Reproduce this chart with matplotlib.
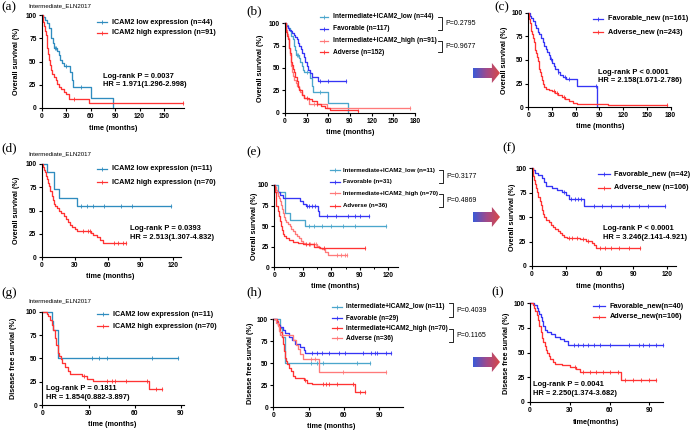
import numpy as np
import matplotlib
matplotlib.use("Agg")
import matplotlib.pyplot as plt
from matplotlib.lines import Line2D
from matplotlib.patches import Polygon
from matplotlib.colors import LinearSegmentedColormap

plt.rcParams["font.family"] = ["Liberation Sans", "DejaVu Sans"]
plt.rcParams["font.weight"] = "bold"

W, H = 695, 432

# ---- survival data (time in months, survival in %) ----
# (a)/(b) Intermediate ELN2017, OS
a_low_t = [0, 2, 4, 7, 9, 11, 12, 14, 15, 19, 21, 23, 25, 27, 35, 37, 39, 60, 87]
a_low_s = [100, 98, 95, 91, 86, 82, 75, 70, 64, 61, 57, 52, 48, 45, 39, 30, 23, 11, 0]
a_low_c = [16, 18, 30, 48]
a_high_t = [0, 1, 2, 3, 4, 5, 6, 7, 8, 9, 10, 11, 13, 15, 17, 19, 21, 24, 27, 30, 33, 58, 173]
a_high_s = [100, 97, 93, 88, 83, 78, 72, 65, 58, 52, 46, 41, 37, 33, 30, 26, 23, 20, 17, 15, 10, 5, 5]
a_high_c = [40, 173]
b_fav_t = [0, 2, 4, 6, 8, 10, 12, 14, 16, 18, 20, 22, 24, 26, 28, 30, 32, 34, 38, 46, 85]
b_fav_s = [100, 97, 95, 93, 91, 89, 87, 85, 82, 78, 75, 71, 67, 62, 57, 52, 48, 44, 40, 36, 36]
b_fav_c = [48, 60, 85]
b_adv_t = [0, 1, 2, 3, 4, 5, 6, 7, 8, 9, 10, 11, 12, 14, 16, 18, 20, 23, 27, 33, 38, 44, 50, 56, 62, 101]
b_adv_s = [100, 95, 90, 86, 82, 77, 72, 67, 62, 57, 53, 49, 45, 40, 35, 29, 25, 20, 17, 15, 13, 10, 7, 5, 3, 2]
b_adv_c = [30, 45, 101]
c_fav_t = [0, 2, 4, 6, 8, 10, 12, 14, 16, 18, 20, 22, 24, 26, 28, 30, 32, 34, 37, 40, 44, 48, 61, 87]
c_fav_s = [100, 97, 94, 91, 87, 84, 80, 77, 73, 69, 65, 62, 58, 55, 51, 47, 44, 41, 37, 34, 32, 30, 22, 0]
c_fav_c = [29, 38, 46, 52, 85]
c_adv_t = [0, 1, 2, 3, 4, 5, 6, 7, 8, 9, 10, 11, 12, 13, 14, 15, 16, 17, 18, 20, 22, 26, 30, 34,
           38, 42, 47, 52, 57, 62, 101, 175]
c_adv_s = [100, 93, 89, 85, 81, 77, 73, 69, 65, 61, 57, 53, 49, 45, 41, 37, 33, 29, 25, 21, 19, 18, 17, 15,
           13, 11, 9, 7, 5, 4, 2, 2]
c_adv_c = [33, 36, 45, 175]

# (d)-(f) OS, second cohort
d_low_t = [0, 5, 11, 16, 32, 118]
d_low_s = [100, 91, 73, 64, 55, 55]
d_low_c = [36, 41, 47, 57, 72, 82, 118]
d_high_t = [0, 1, 2, 3, 4, 5, 6, 7, 8, 9, 10, 11, 12, 14, 16, 18, 20, 22, 24, 26, 28, 30, 32, 45, 47, 50,
            53, 56, 77]
d_high_s = [100, 97, 94, 91, 87, 84, 80, 76, 71, 66, 61, 57, 55, 53, 50, 47, 44, 41, 38, 35, 32, 30, 28, 26,
            24, 22, 19, 15, 15]
d_high_c = [38, 42, 44, 66, 70, 74, 77]
e_low_t = [0, 4, 11, 16, 32, 118]
e_low_s = [100, 91, 66, 58, 50, 50]
e_low_c = [36, 42, 50, 60, 72, 85, 118]
e_fav_t = [0, 1, 6, 9, 27, 30, 33, 46, 47, 100]
e_fav_s = [100, 92, 88, 84, 80, 77, 74, 68, 62, 62]
e_fav_c = [34, 37, 40, 43, 55, 65, 78, 85, 90, 100]
e_adv_t = [0, 1, 2, 4, 5, 6, 7, 8, 9, 10, 12, 15, 20, 25, 30, 42, 48, 95]
e_adv_s = [100, 92, 75, 69, 62, 56, 50, 45, 41, 38, 35, 33, 31, 29, 28, 25, 23, 23]
e_adv_c = [33, 36, 52, 95]
f_fav_t = [0, 1, 3, 6, 9, 11, 13, 18, 22, 27, 30, 33, 46, 118]
f_fav_s = [100, 98, 95, 93, 90, 86, 82, 80, 78, 76, 73, 69, 61, 61]
f_fav_c = [29, 35, 38, 41, 44, 55, 62, 70, 80, 86, 95, 103, 118]
f_adv_t = [0, 1, 2, 3, 4, 5, 6, 7, 8, 9, 10, 11, 13, 15, 17, 19, 21, 23, 25, 27, 29, 31, 43, 48, 53, 55,
           57, 96]
f_adv_s = [100, 92, 88, 84, 80, 76, 71, 67, 62, 57, 53, 50, 47, 45, 42, 40, 38, 36, 34, 32, 30, 29, 28, 26,
           24, 21, 18, 18]
f_adv_c = [33, 36, 40, 45, 50, 60, 65, 70, 77, 86, 96]

# (g)-(i) DFS
g_low_t = [0, 6, 7, 10, 88]
g_low_s = [100, 90, 80, 50, 50]
g_low_c = [32, 37, 42, 71, 88]
g_high_t = [0, 3, 4, 5, 6, 7, 8, 9, 10, 11, 12, 13, 15, 17, 18, 26, 29, 33, 69, 78]
g_high_s = [100, 98, 95, 91, 86, 80, 72, 64, 56, 53, 49, 45, 41, 36, 33, 31, 28, 26, 17, 17]
g_high_c = [27, 42, 45, 47, 54, 68, 74, 78]
h_low_t = [0, 6, 7, 10, 82]
h_low_s = [100, 90, 80, 50, 50]
h_low_c = [32, 37, 42, 71, 82]
h_fav_t = [0, 3, 4, 6, 8, 10, 13, 16, 18, 23, 26, 27, 100]
h_fav_s = [100, 97, 94, 91, 88, 84, 80, 76, 72, 69, 65, 62, 62]
h_fav_c = [33, 37, 41, 47, 56, 61, 76, 83, 86, 88, 96, 100]
h_adv_t = [0, 2, 4, 5, 6, 17, 19, 21, 23, 25, 39, 96]
h_adv_s = [100, 96, 92, 87, 82, 77, 71, 66, 61, 55, 40, 40]
h_adv_c = [32, 35, 59, 96]
i_fav_t = [0, 3, 5, 6, 7, 8, 9, 10, 11, 13, 16, 19, 23, 26, 29, 100]
i_fav_s = [100, 98, 95, 92, 89, 86, 82, 77, 73, 71, 69, 66, 64, 62, 58, 58]
i_fav_c = [33, 36, 40, 44, 48, 53, 60, 75, 82, 85, 90, 95, 100]
i_adv_t = [0, 2, 3, 4, 5, 6, 7, 8, 9, 10, 11, 12, 13, 14, 15, 17, 19, 24, 30, 35, 38, 69, 95]
i_adv_s = [100, 98, 95, 92, 88, 83, 77, 71, 65, 61, 57, 53, 49, 46, 43, 40, 38, 37, 35, 33, 30, 22, 22]
i_adv_c = [34, 40, 45, 50, 55, 60, 66, 72, 78, 84, 90, 95]

TEAL = "#2f8cbf"
LTEAL = "#4ba6cc"
RED = "#ff3333"
PINK = "#ff7a7a"
BLUE = "#3535f5"

fig = plt.figure(figsize=(W / 100, H / 100), dpi=100)


def ftext(x, y, s, **kw):
    fig.text(x / W, 1 - y / H, s, **kw)


def km_axes(x0, px_per, xmax, ytop, ybot, xticks, minor=False):
    x1 = x0 + px_per * xmax
    ax = fig.add_axes([x0 / W, 1 - ybot / H, (x1 - x0) / W, (ybot - ytop) / H])
    ax.set_xlim(0, xmax)
    ax.set_ylim(0, 100)
    ax.set_xticks(xticks)
    ax.set_yticks([0, 25, 50, 75, 100])
    if minor:
        ax.set_xticks([(a + b) / 2 for a, b in zip(xticks[:-1], xticks[1:])], minor=True)
        ax.tick_params(axis="x", which="minor", length=1.5, width=0.7)
    for sp in ["top", "right"]:
        ax.spines[sp].set_visible(False)
    for sp in ["left", "bottom"]:
        ax.spines[sp].set_linewidth(0.8)
    ax.tick_params(direction="out", length=2.5, width=0.8, labelsize=4.8, pad=1.2)
    ax.patch.set_alpha(0)
    return ax


def km(ax, t, s, c, color):
    ax.step(t, s, where="post", color=color, lw=0.95, clip_on=False)
    idx = np.searchsorted(t, c, side="right") - 1
    ax.plot(c, np.array(s)[idx], ls="none", marker="|", ms=2.8, mew=0.6, color=color, clip_on=False)


def legend(x0, x1, xt, ys, labels, colors, size=5.2):
    for y, lab, col in zip(ys, labels, colors):
        fig.add_artist(Line2D([x0 / W, x1 / W], [1 - y / H] * 2, color=col, lw=0.9))
        fig.add_artist(Line2D([(x0 + x1) / 2 / W], [1 - y / H], marker="|", ms=2.8, mew=0.6, color=col))
        ftext(xt, y, lab, va="center", ha="left", fontsize=size)


def bracket(x, y1, y2, label):
    fig.add_artist(Line2D([(x - 4) / W, x / W, x / W, (x - 4) / W],
                          [1 - y1 / H, 1 - y1 / H, 1 - y2 / H, 1 - y2 / H], color="black", lw=0.6))
    ftext(x + 3, (y1 + y2) / 2, label, va="center", ha="left", fontsize=5, fontweight="normal")


def arrow(yc):
    x0, x1 = 473, 500
    aax = fig.add_axes([x0 / W, 1 - (yc + 10) / H, (x1 - x0) / W, 20 / H])
    aax.axis("off")
    cmap = LinearSegmentedColormap.from_list("bluered", ["#3a5ad8", "#a04a8a", "#d84848"])
    im = aax.imshow(np.linspace(0, 1, 200).reshape(1, -1), extent=[0, 1, 0, 1], cmap=cmap, aspect="auto")
    poly = Polygon([[0, 0.25], [0.7, 0.25], [0.7, 0], [1, 0.5], [0.7, 1], [0.7, 0.75], [0, 0.75]],
                   closed=True, transform=aax.transAxes, fc="none", ec="none")
    aax.add_patch(poly)
    im.set_clip_path(poly)


def ylab(x, y, s):
    ftext(x, y, s, rotation=90, ha="center", va="center", fontsize=5.2)


def xlab(x, y, s):
    ftext(x, y, s, ha="center", va="center", fontsize=5.2)


def plabel(x, y, s):
    ftext(x, y, s, ha="left", va="center", fontsize=9.5, fontweight="normal",
          family=["Liberation Serif", "DejaVu Serif"])


def title(x, y, s):
    ftext(x, y, s, ha="left", va="center", fontsize=4.4, fontweight="normal")


def stats(x, y, p, hr):
    ftext(x, y, p, ha="left", va="center", fontsize=5.4)
    ftext(x, y + 8.5, hr, ha="left", va="center", fontsize=5.4)


# ---- (a) ----
ax = km_axes(41.7, 0.8153, 175, 15, 108, [0, 30, 60, 90, 120, 150])
km(ax, a_low_t, a_low_s, a_low_c, TEAL)
km(ax, a_high_t, a_high_s, a_high_c, RED)
legend(97, 107, 112, [22, 33], ["ICAM2 low expression (n=44)", "ICAM2 high expression (n=91)"], [TEAL, RED])
stats(103, 76, "Log-rank P = 0.0037", "HR = 1.971(1.296-2.998)")
ylab(17, 61, "Overall survival (%)")
xlab(113, 128, "time (months)")
plabel(1, 7.5, "(a)")
title(28, 6, "Intermediate_ELN2017")

# ---- (b) ----
ax = km_axes(285, 0.7222, 180, 23.3, 112.7, [0, 30, 60, 90, 120, 150, 180])
km(ax, a_low_t, a_low_s, a_low_c, LTEAL)
km(ax, b_fav_t, b_fav_s, b_fav_c, BLUE)
km(ax, a_high_t, a_high_s, a_high_c, PINK)
km(ax, b_adv_t, b_adv_s, b_adv_c, RED)
legend(320, 328, 333, [17, 29, 41, 52],
       ["Intermediate+ICAM2_low (n=44)", "Favorable (n=117)", "Intermediate+ICAM2_high (n=91)", "Adverse (n=152)"],
       [LTEAL, BLUE, PINK, RED], size=4.8)
bracket(442, 17, 30, "P=0.2795")
bracket(442, 41, 52, "P=0.9677")
ylab(261, 68, "Overall survival (%)")
xlab(350, 132, "time (months)")
plabel(246, 11, "(b)")

# ---- (c) ----
ax = km_axes(528.3, 0.791, 180, 12.7, 107.3, [0, 30, 60, 90, 120, 150, 180])
km(ax, c_fav_t, c_fav_s, c_fav_c, BLUE)
km(ax, c_adv_t, c_adv_s, c_adv_c, RED)
legend(593, 603, 608, [19, 32], ["Favorable_new (n=161)", "Adverse_new (n=243)"], [BLUE, RED])
stats(598, 72, "Log-rank P < 0.0001", "HR = 2.158(1.671-2.786)")
ylab(505, 60, "Overall survival (%)")
xlab(600, 127, "time (months)")
plabel(494, 7.5, "(c)")
arrow(73)

# ---- (d) ----
ax = km_axes(41.7, 1.097, 127, 164, 257.3, [0, 30, 60, 90, 120])
km(ax, d_low_t, d_low_s, d_low_c, TEAL)
km(ax, d_high_t, d_high_s, d_high_c, RED)
legend(97, 107, 112, [169, 182], ["ICAM2 low expression (n=11)", "ICAM2 high expression (n=70)"], [TEAL, RED])
stats(130, 229, "Log-rank P = 0.0393", "HR = 2.513(1.307-4.832)")
ylab(17, 210, "Overall survival (%)")
xlab(110, 277, "time (months)")
plabel(1, 148, "(d)")
title(28, 154, "Intermediate_ELN2017")

# ---- (e) ----
ax = km_axes(274.3, 0.95, 130, 185, 267.3, [0, 30, 60, 90, 120], minor=True)
km(ax, e_low_t, e_low_s, e_low_c, LTEAL)
km(ax, e_fav_t, e_fav_s, e_fav_c, BLUE)
km(ax, d_high_t, d_high_s, d_high_c, PINK)
km(ax, e_adv_t, e_adv_s, e_adv_c, RED)
legend(330, 340, 343, [170, 182, 193, 206],
       ["Intermediate+ICAM2_low (n=11)", "Favorable (n=31)", "Intermediate+ICAM2_high (n=70)", "Adverse (n=36)"],
       [LTEAL, BLUE, PINK, RED], size=4.4)
bracket(443, 170, 183, "P=0.3177")
bracket(443, 194, 207, "P=0.4869")
ylab(255, 226, "Overall survival (%)")
xlab(335, 287, "time (months)")
plabel(246, 152, "(e)")

# ---- (f) ----
ax = km_axes(531.7, 1.13, 128, 168.3, 266, [0, 30, 60, 90, 120])
km(ax, f_fav_t, f_fav_s, f_fav_c, BLUE)
km(ax, f_adv_t, f_adv_s, f_adv_c, RED)
legend(598, 610, 614, [174, 188], ["Favorable_new (n=42)", "Adverse_new (n=106)"], [BLUE, RED])
stats(603, 229, "Log-rank P < 0.0001", "HR = 3.246(2.141-4.921)")
ylab(512, 217, "Overall survival (%)")
xlab(600, 287, "time (months)")
plabel(502, 148, "(f)")
arrow(217)

# ---- (g) ----
ax = km_axes(42.3, 1.541, 92, 311.7, 405, [0, 30, 60, 90])
km(ax, g_low_t, g_low_s, g_low_c, TEAL)
km(ax, g_high_t, g_high_s, g_high_c, RED)
legend(97, 108, 113, [314, 326], ["ICAM2 low expression (n=11)", "ICAM2 high expression (n=70)"], [TEAL, RED])
stats(46, 389, "Log-rank P = 0.1811", "HR = 1.854(0.882-3.897)")
ylab(14, 358, "Disease free survial (%)")
xlab(112, 425, "time (months)")
plabel(1, 293, "(g)")
title(28, 301, "Intermediate_ELN2017")

# ---- (h) ----
ax = km_axes(273.3, 1.178, 110, 319.3, 407.3, [0, 30, 60, 90])
km(ax, h_low_t, h_low_s, h_low_c, LTEAL)
km(ax, h_fav_t, h_fav_s, h_fav_c, BLUE)
km(ax, g_high_t, g_high_s, g_high_c, RED)
km(ax, h_adv_t, h_adv_s, h_adv_c, PINK)
legend(332, 342, 346, [307, 318, 328, 338],
       ["Intermediate+ICAM2_low (n=11)", "Favorable (n=29)", "Intermediate+ICAM2_high (n=70)", "Adverse (n=36)"],
       [LTEAL, BLUE, RED, PINK], size=4.7)
bracket(453, 303, 317, "P=0.4039")
bracket(453, 329, 342, "P=0.1165")
ylab(250, 363, "Disease free survial (%)")
xlab(331, 426, "time (months)")
plabel(246, 292, "(h)")

# ---- (i) ----
ax = km_axes(530, 1.326, 100, 303.3, 401.7, [0, 30, 60, 90])
km(ax, i_fav_t, i_fav_s, i_fav_c, BLUE)
km(ax, i_adv_t, i_adv_s, i_adv_c, RED)
legend(593, 605, 610, [306, 317], ["Favorable_new(n=40)", "Adverse_new(n=106)"], [BLUE, RED])
stats(533, 385, "Log-rank P = 0.0041", "HR = 2.250(1.374-3.682)")
ylab(507, 353, "Disease free survial (%)")
xlab(596, 422, "time(months)")
plabel(491, 292, "(i)")
arrow(362)

fig.savefig("out.png", dpi=100)
